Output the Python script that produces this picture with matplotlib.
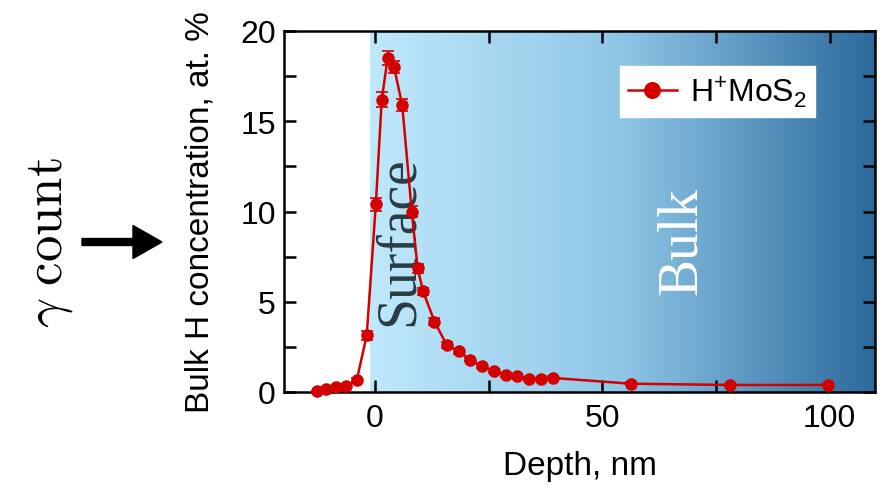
import numpy as np
import matplotlib
matplotlib.use("Agg")
import matplotlib.pyplot as plt
from matplotlib.colors import LinearSegmentedColormap
from matplotlib.patches import FancyArrow
from matplotlib.ticker import MultipleLocator

plt.rcParams['font.family'] = ['Liberation Sans', 'DejaVu Sans']
plt.rcParams['mathtext.fontset'] = 'custom'
plt.rcParams['mathtext.rm'] = 'Liberation Sans'

# depth profile of H in MoS2
depth = [-12.7, -10.7, -8.5, -6.3, -4.0, -1.8, 0.2, 1.5, 2.8, 4.2, 6.0, 8.1,
         9.4, 10.6, 13.1, 15.8, 18.4, 21.0, 23.5, 26.1, 28.8, 31.3, 34.0,
         36.6, 39.1, 56.3, 78.0, 99.7]
conc = [0.03, 0.15, 0.25, 0.35, 0.65, 3.15, 10.4, 16.2, 18.5, 18.0, 15.9, 10.0,
        6.85, 5.58, 3.9, 2.6, 2.25, 1.8, 1.42, 1.18, 0.92, 0.9, 0.7,
        0.7, 0.78, 0.46, 0.39, 0.39]
err = [0.05, 0.05, 0.05, 0.05, 0.1, 0.25, 0.35, 0.4, 0.4, 0.35, 0.35, 0.3,
       0.25, 0.2, 0.2, 0.15, 0.12, 0.1, 0.1, 0.1, 0.08, 0.08, 0.08,
       0.08, 0.08, 0.08, 0.08, 0.08]

fig = plt.figure(figsize=(8.88, 4.89), dpi=100)
ax = fig.add_axes([284/888, 1-393/489, (875-284)/888, (393-32)/489])

# surface -> bulk gradient
cmap = LinearSegmentedColormap.from_list(
    'sb', ['#bfe8fb', '#8ec6e6', '#2c6a9c'])
grad = np.linspace(0, 1, 256).reshape(1, -1)
ax.imshow(grad, extent=[-1, 110, 0, 20], aspect='auto', cmap=cmap,
          origin='lower', zorder=0)

red = '#d40000'
ax.errorbar(depth, conc, yerr=err, fmt='none', ecolor=red, elinewidth=1.2,
            capsize=4, capthick=1.2, clip_on=False, zorder=3)
ax.plot(depth, conc, color=red, marker='o', markersize=8, linewidth=1.8,
        label=r'H$^{+}$MoS$_{2}$', clip_on=False, zorder=4)

ax.set_xlim(-20, 110)
ax.set_ylim(0, 20)
ax.xaxis.set_major_locator(MultipleLocator(50))
ax.xaxis.set_minor_locator(MultipleLocator(25))
ax.yaxis.set_major_locator(MultipleLocator(5))
ax.yaxis.set_minor_locator(MultipleLocator(2.5))
ax.tick_params(which='both', direction='in', top=True, right=True,
               width=1.8, length=8.5, labelsize=23)
ax.tick_params(axis='x', pad=8)
ax.tick_params(axis='y', pad=6)
for s in ax.spines.values():
    s.set_linewidth(1.8)

ax.set_xlabel('Depth, nm', fontsize=24, labelpad=12)
ax.set_ylabel('Bulk H concentration, at. %', fontsize=24, labelpad=18)

ax.text(5.3, 8.4, 'Surface', rotation=90, ha='center', va='center',
        fontsize=40, family='Liberation Serif', color='#2a3b42')
ax.text(67.5, 8.4, 'Bulk', rotation=90, ha='center', va='center',
        fontsize=40, family='Liberation Serif', color='white')

ax.legend(loc='upper right', bbox_to_anchor=(0.898, 0.903),
          borderaxespad=0, fontsize=23, frameon=True, fancybox=False,
          framealpha=1, edgecolor='white', handlelength=1.55,
          handletextpad=0.4, borderpad=0.25, markerscale=1.4)

# left annotation
fig.text(50/888, 1-243/489, r'$\gamma\ \mathrm{count}$', rotation=90,
         ha='center', va='center', fontsize=38, math_fontfamily='cm')
fig.patches.append(FancyArrow(
    82/888, 1-243/489, 80/888, 0, width=7/489, head_width=33/489,
    head_length=29/888, length_includes_head=True, color='black',
    transform=fig.transFigure, figure=fig))

fig.savefig('out.png', dpi=100)
